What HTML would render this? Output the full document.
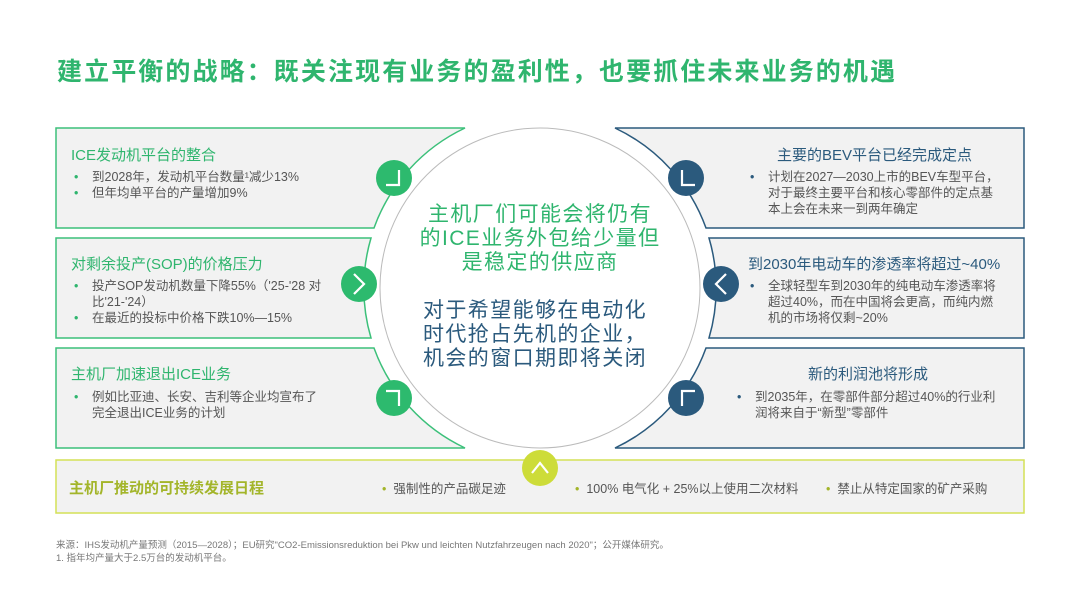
<!DOCTYPE html>
<html><head><meta charset="utf-8"><style>
body{margin:0;width:1080px;height:608px;background:#fff;position:relative;overflow:hidden;font-family:"Liberation Sans","Noto Sans CJK SC",sans-serif;}
.a{position:absolute;white-space:nowrap;}
.t{font-size:25px;font-weight:bold;color:#2fb56e;letter-spacing:2.1px;left:57px;top:52px;}
.h{font-size:15px;}
.g{color:#2fb56e}.b{color:#2b5a7d}
.li{font-size:12.5px;color:#555;line-height:16px;}
.li span.d{position:absolute;left:-18px;}
.c{font-size:21px;line-height:24px;letter-spacing:1.4px;}
</style></head><body>
<svg width="1080" height="608" style="position:absolute;left:0;top:0">
<g fill="#f2f2f2" stroke-width="1.5">
<path d="M56,128 H465 A177,177 0 0 0 374,228 H56 Z" stroke="#3cc07a"/>
<path d="M56,238 H371 A177,177 0 0 0 371,338 H56 Z" stroke="#3cc07a"/>
<path d="M56,348 H374 A177,177 0 0 0 465,448 H56 Z" stroke="#3cc07a"/>
<path d="M1024,128 H615 A177,177 0 0 1 706,228 H1024 Z" stroke="#2b5a7d"/>
<path d="M1024,238 H709 A177,177 0 0 1 709,338 H1024 Z" stroke="#2b5a7d"/>
<path d="M1024,348 H706 A177,177 0 0 1 615,448 H1024 Z" stroke="#2b5a7d"/>
<rect x="56" y="460" width="968" height="53" stroke="#d4e157"/>
</g>
<circle cx="540" cy="288" r="160" fill="#fff" stroke="#bbb" stroke-width="1"/>
<g fill="#2dba6e"><circle cx="394" cy="178" r="18"/><circle cx="359" cy="284" r="18"/><circle cx="394" cy="398" r="18"/></g>
<g fill="#2b5a7d"><circle cx="686" cy="178" r="18"/><circle cx="721" cy="284" r="18"/><circle cx="686" cy="398" r="18"/></g>
<circle cx="540" cy="468" r="18" fill="#cddc39"/>
<g fill="none" stroke="#fff" stroke-width="2.2">
<path d="M399,170 V185 H386"/><path d="M354,274 L364,284 L354,294"/><path d="M386,391 H399 V406"/>
<path d="M682,170 V185 H695"/><path d="M726,274 L716,284 L726,294"/><path d="M682,406 V391 H695"/>
<path d="M532,473 L540,463 L548,473"/>
</g>
</svg>
<div class="a t">建立平衡的战略：既关注现有业务的盈利性，也要抓住未来业务的机遇</div>

<div class="a h g" style="left:71px;top:144px">ICE发动机平台的整合</div>
<div class="a li" style="left:92px;top:169px"><span class="d g">•</span>到2028年，发动机平台数量¹减少13%<br><span class="d g" style="top:16px">•</span>但年均单平台的产量增加9%</div>

<div class="a h g" style="left:71px;top:253px">对剩余投产(SOP)的价格压力</div>
<div class="a li" style="left:92px;top:278px"><span class="d g">•</span>投产SOP发动机数量下降55%（'25-'28 对<br>比'21-'24）<br><span class="d g" style="top:32px">•</span>在最近的投标中价格下跌10%—15%</div>

<div class="a h g" style="left:71px;top:363px">主机厂加速退出ICE业务</div>
<div class="a li" style="left:92px;top:389px"><span class="d g">•</span>例如比亚迪、长安、吉利等企业均宣布了<br>完全退出ICE业务的计划</div>

<div class="a h b" style="left:777px;top:144px">主要的BEV平台已经完成定点</div>
<div class="a li" style="left:768px;top:169px"><span class="d b">•</span>计划在2027—2030上市的BEV车型平台，<br>对于最终主要平台和核心零部件的定点基<br>本上会在未来一到两年确定</div>

<div class="a h b" style="left:748px;top:253px">到2030年电动车的渗透率将超过~40%</div>
<div class="a li" style="left:768px;top:278px"><span class="d b">•</span>全球轻型车到2030年的纯电动车渗透率将<br>超过40%，而在中国将会更高，而纯内燃<br>机的市场将仅剩~20%</div>

<div class="a h b" style="left:808px;top:363px">新的利润池将形成</div>
<div class="a li" style="left:755px;top:389px"><span class="d b">•</span>到2035年，在零部件部分超过40%的行业利<br>润将来自于“新型”零部件</div>

<div class="a c g" style="left:390px;top:203px;width:300px;text-align:center">主机厂们可能会将仍有<br>的ICE业务外包给少量但<br>是稳定的供应商</div>
<div class="a c b" style="left:423px;top:299px">对于希望能够在电动化<br>时代抢占先机的企业，<br>机会的窗口期即将关闭</div>

<div class="a" style="left:69px;top:477px;font-size:15px;font-weight:bold;color:#a3b52a">主机厂推动的可持续发展日程</div>
<div class="a" style="left:382px;top:478px;font-size:12.5px;color:#555"><span style="color:#a3b52a">•</span>&nbsp;&nbsp;强制性的产品碳足迹</div>
<div class="a" style="left:575px;top:478px;font-size:12.5px;color:#555"><span style="color:#a3b52a">•</span>&nbsp;&nbsp;100% 电气化 + 25%以上使用二次材料</div>
<div class="a" style="left:826px;top:478px;font-size:12.5px;color:#555"><span style="color:#a3b52a">•</span>&nbsp;&nbsp;禁止从特定国家的矿产采购</div>

<div class="a" style="left:56px;top:539px;font-size:9.5px;color:#777;line-height:13px">来源：IHS发动机产量预测（2015—2028）；EU研究"CO2-Emissionsreduktion  bei Pkw und leichten Nutzfahrzeugen nach 2020"；公开媒体研究。<br>1. 指年均产量大于2.5万台的发动机平台。</div>
</body></html>
